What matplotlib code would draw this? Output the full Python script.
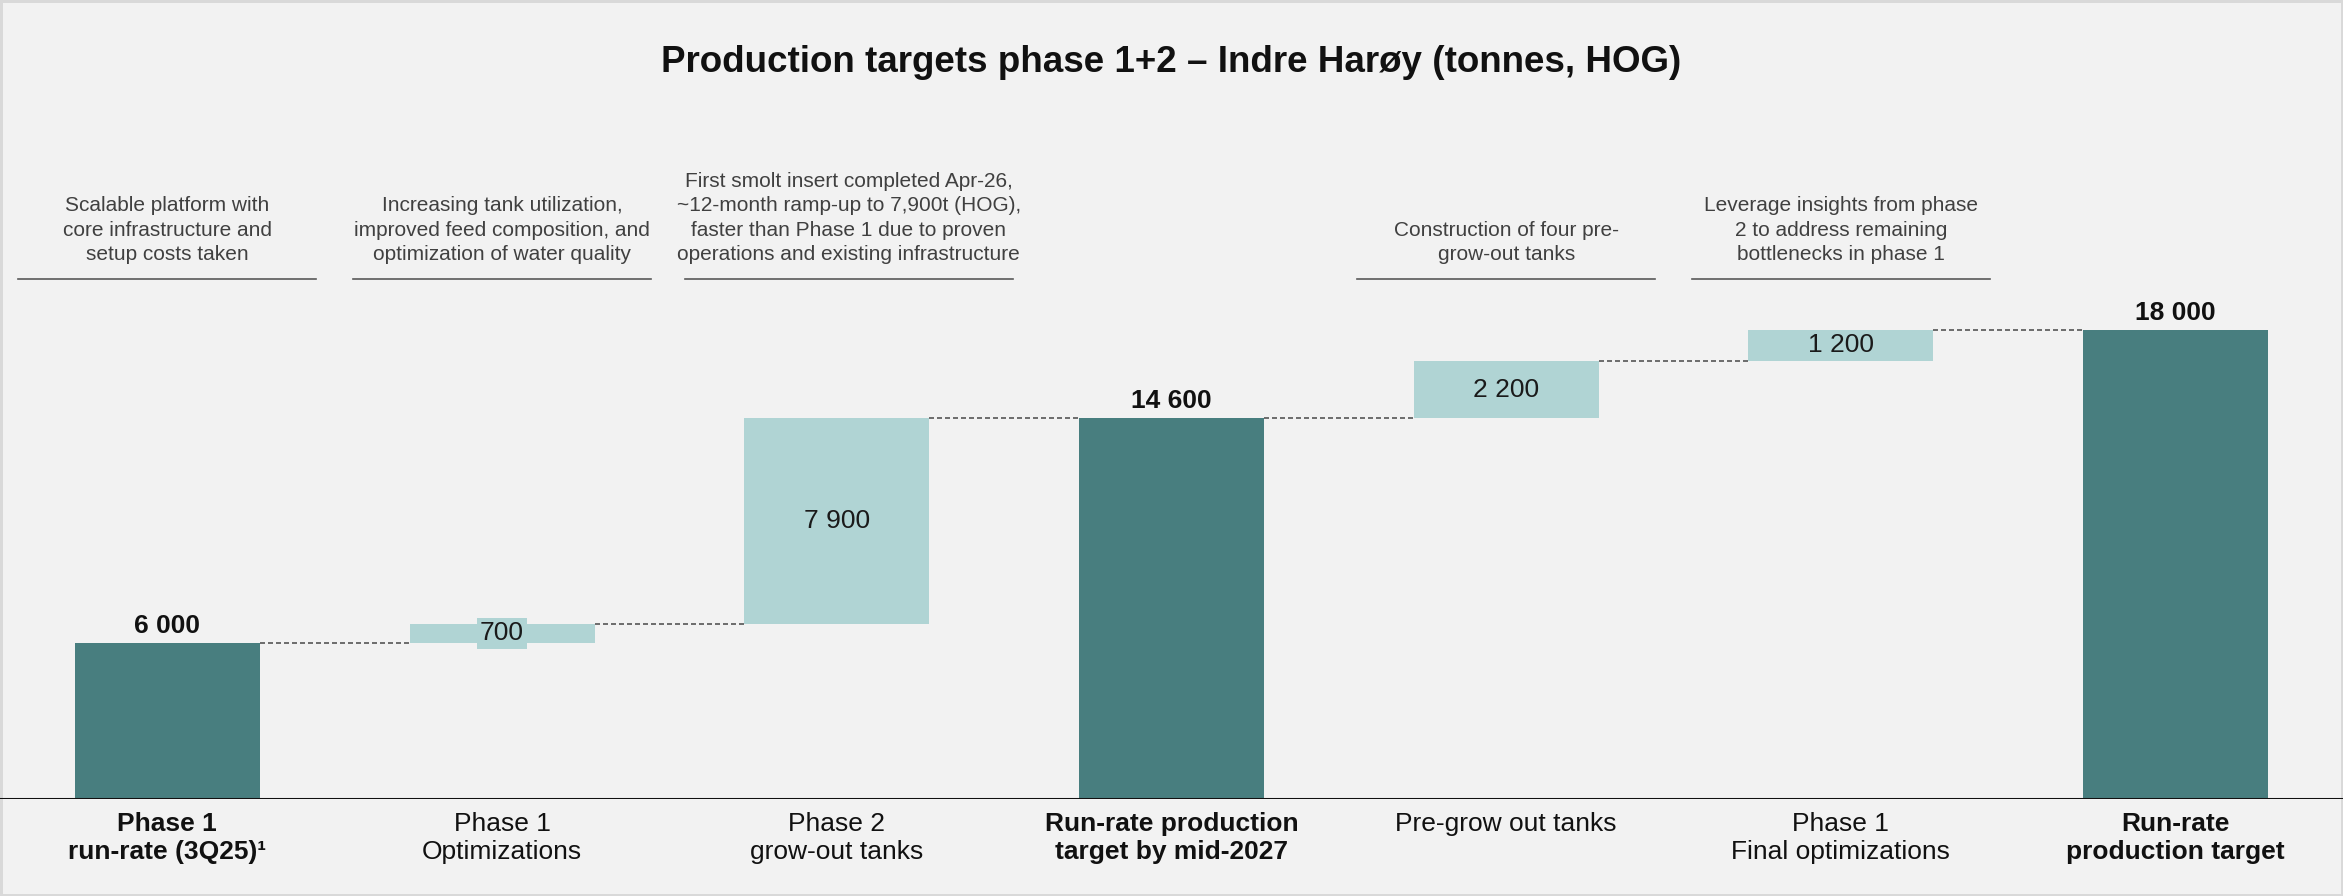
import matplotlib
matplotlib.use("Agg")
import matplotlib.pyplot as plt
import matplotlib.transforms as mtransforms

plt.rcParams['font.family'] = ['Liberation Sans', 'DejaVu Sans']

# ---------------- data ----------------
categories = ["Phase 1\nrun-rate (3Q25)\u00b9", "Phase 1\nOptimizations", "Phase 2\ngrow-out tanks",
              "Run-rate production\ntarget by mid-2027", "Pre-grow out tanks",
              "Phase 1\nFinal optimizations", "Run-rate\nproduction target"]
values = [6000, 700, 7900, 14600, 2200, 1200, 18000]
is_total = [True, False, False, True, False, False, True]
notes = [
    "Scalable platform with\ncore infrastructure and\nsetup costs taken",
    "Increasing tank utilization,\nimproved feed composition, and\noptimization of water quality",
    "First smolt insert completed Apr-26,\n~12-month ramp-up to 7,900t (HOG),\nfaster than Phase 1 due to proven\noperations and existing infrastructure",
    None,
    "Construction of four pre-\ngrow-out tanks",
    "Leverage insights from phase\n2 to address remaining\nbottlenecks in phase 1",
    None,
]
title = "Production targets phase 1+2 \u2013 Indre Har\u00f8y (tonnes, HOG)"

# ---------------- style ----------------
BG = "#F2F2F2"
DARK = "#487E7F"
LIGHT = "#B0D4D4"
W, H = 2343, 896
DPI = 100
bar_w = 0.553

fig = plt.figure(figsize=(W / DPI, H / DPI), dpi=DPI, facecolor=BG)
fig.patch.set_edgecolor("#D9D9D9")
fig.patch.set_linewidth(2.5)

base_px = 799
top_px = 100
ax = fig.add_axes([0, 1 - base_px / H, 1, (base_px - top_px) / H])
ax.patch.set_visible(False)
ax.set_xlim(-0.5, 6.5)
ax.set_ylim(0, 26800)
for s in ax.spines.values():
    s.set_visible(False)
ax.set_yticks([])

# bottoms for waterfall
bottoms = []
running = 0
for v, t in zip(values, is_total):
    if t:
        bottoms.append(0)
        running = v
    else:
        bottoms.append(running)
        running += v
tops = [b + v for b, v in zip(bottoms, values)]

x = list(range(len(values)))
colors = [DARK if t else LIGHT for t in is_total]
ax.bar(x, values, bottom=bottoms, width=bar_w, color=colors, zorder=2)

# connectors
for i in range(len(values) - 1):
    ax.plot([i + bar_w / 2, i + 1 - bar_w / 2], [tops[i], tops[i]],
            color="#555555", lw=1.2, linestyle=(0, (3, 1.8)), zorder=1)

# value labels
for i, (v, b, t) in enumerate(zip(values, bottoms, is_total)):
    lab = f"{v:,}".replace(",", " ")
    if t:
        ax.annotate(lab, (i, b + v), xytext=(0, 17), textcoords="offset pixels",
                    ha="center", va="center", fontsize=19, fontweight="bold", color="#111111")
    else:
        ax.text(i, b + v / 2, lab, ha="center", va="center", fontsize=19, color="#1a1a1a",
                zorder=3,
                bbox=dict(boxstyle="square,pad=0.12", fc=LIGHT, ec="none"))

# baseline
ax.axhline(0, color="#111111", lw=2.2, zorder=4)

# x tick labels
ax.set_xticks(x)
ax.set_xticklabels(categories, fontsize=19, linespacing=1.25)
for lbl, t in zip(ax.get_xticklabels(), is_total):
    if t:
        lbl.set_fontweight("bold")
    lbl.set_color("#111111")
ax.tick_params(axis="x", length=0, pad=9)

# annotations above
trans = mtransforms.blended_transform_factory(ax.transData, fig.transFigure)
note_center = {2: 2.036}
note_half = {2: 0.49}
line_y = 1 - 279 / H
text_y = 1 - 264 / H
for i, n in enumerate(notes):
    if n is None:
        continue
    c = note_center.get(i, i)
    hw = note_half.get(i, 0.445)
    ax.text(c, text_y, n, transform=trans, ha="center", va="bottom", fontsize=15,
            color="#404040", linespacing=1.36, clip_on=False)
    ax.plot([c - hw, c + hw], [line_y, line_y], transform=trans, color="#595959",
            lw=1.2, clip_on=False)

fig.text(0.5, 1 - 63 / H, title, ha="center", va="center", fontsize=26.5,
         fontweight="bold", color="#111111")

fig.savefig("out.png", dpi=DPI, facecolor=BG, edgecolor=fig.patch.get_edgecolor())
